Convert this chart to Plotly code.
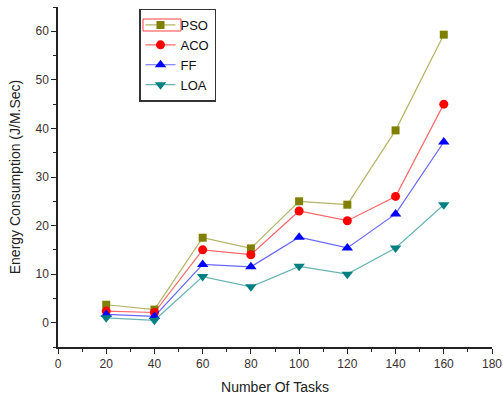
import plotly.graph_objects as go

tasks = [20, 40, 60, 80, 100, 120, 140, 160]
pso = [3.7, 2.7, 17.5, 15.3, 25.0, 24.3, 39.6, 59.3]
aco = [2.4, 2.1, 15.0, 14.0, 23.0, 21.0, 26.0, 45.0]
ff = [1.7, 1.3, 12.0, 11.5, 17.6, 15.4, 22.4, 37.2]
loa = [1.0, 0.5, 9.5, 7.4, 11.6, 10.0, 15.4, 24.3]

series = [
    ("PSO", pso, "#808000", "rgba(128,128,0,0.6)", "square", 8),
    ("ACO", aco, "#FF0000", "rgba(255,0,0,0.6)", "circle", 9),
    ("FF", ff, "#0000FF", "rgba(0,0,255,0.6)", "triangle-up", 10),
    ("LOA", loa, "#008080", "rgba(0,128,128,0.6)", "triangle-down", 10),
]

fig = go.Figure()
for name, vals, mc, lc, sym, sz in series:
    fig.add_trace(go.Scatter(
        x=tasks, y=vals, name=name, mode="lines+markers",
        line=dict(color=lc, width=1.2),
        marker=dict(color=mc, symbol=sym, size=sz),
    ))

FONT = "Liberation Sans, Arial"
axis_common = dict(
    showline=True, linecolor="#222", linewidth=1.5, showgrid=False, zeroline=False,
    ticks="outside", ticklen=5, tickwidth=1, tickcolor="#222",
    tickfont=dict(family=FONT, size=12, color="#3a3030"),
    mirror=False, automargin=False,
)

fig.update_xaxes(
    range=[0, 180], dtick=20, tick0=0,
    minor=dict(ticks="outside", dtick=10, ticklen=3, tickcolor="#222"),
    title=dict(text="Number Of Tasks", font=dict(family=FONT, size=14, color="#222"), standoff=12),
    **axis_common,
)
fig.update_yaxes(
    range=[-5, 65], dtick=10, tick0=0,
    minor=dict(ticks="outside", dtick=5, ticklen=3, tickcolor="#222"),
    title=dict(text="Energy Consumption (J/M.Sec)", font=dict(family=FONT, size=14, color="#222"), standoff=12),
    **axis_common,
)

L, R, T, B = 58, 492, 7, 347
def px(xp):
    return (xp - L) / (R - L)
def py(yp):
    return (B - yp) / (B - T)

fig.add_shape(type="rect", xref="paper", yref="paper",
              x0=px(143), x1=px(181), y0=py(31), y1=py(19),
              line=dict(color="#FF4040", width=1), layer="above")

fig.update_layout(
    width=503, height=396,
    margin=dict(l=58, r=11, t=7, b=49),
    plot_bgcolor="white", paper_bgcolor="white",
    legend=dict(
        x=px(139), y=py(8.5), xanchor="left", yanchor="top",
        bordercolor="#333", borderwidth=1.5, bgcolor="rgba(255,255,255,0)",
        font=dict(family=FONT, size=13, color="#111"),
        tracegroupgap=0, itemwidth=30,
    ),
    showlegend=True,
)

fig.write_html(
    "out.html",
    config={"displayModeBar": False},
    post_script="document.body.style.margin='0';document.body.style.padding='0';",
)
